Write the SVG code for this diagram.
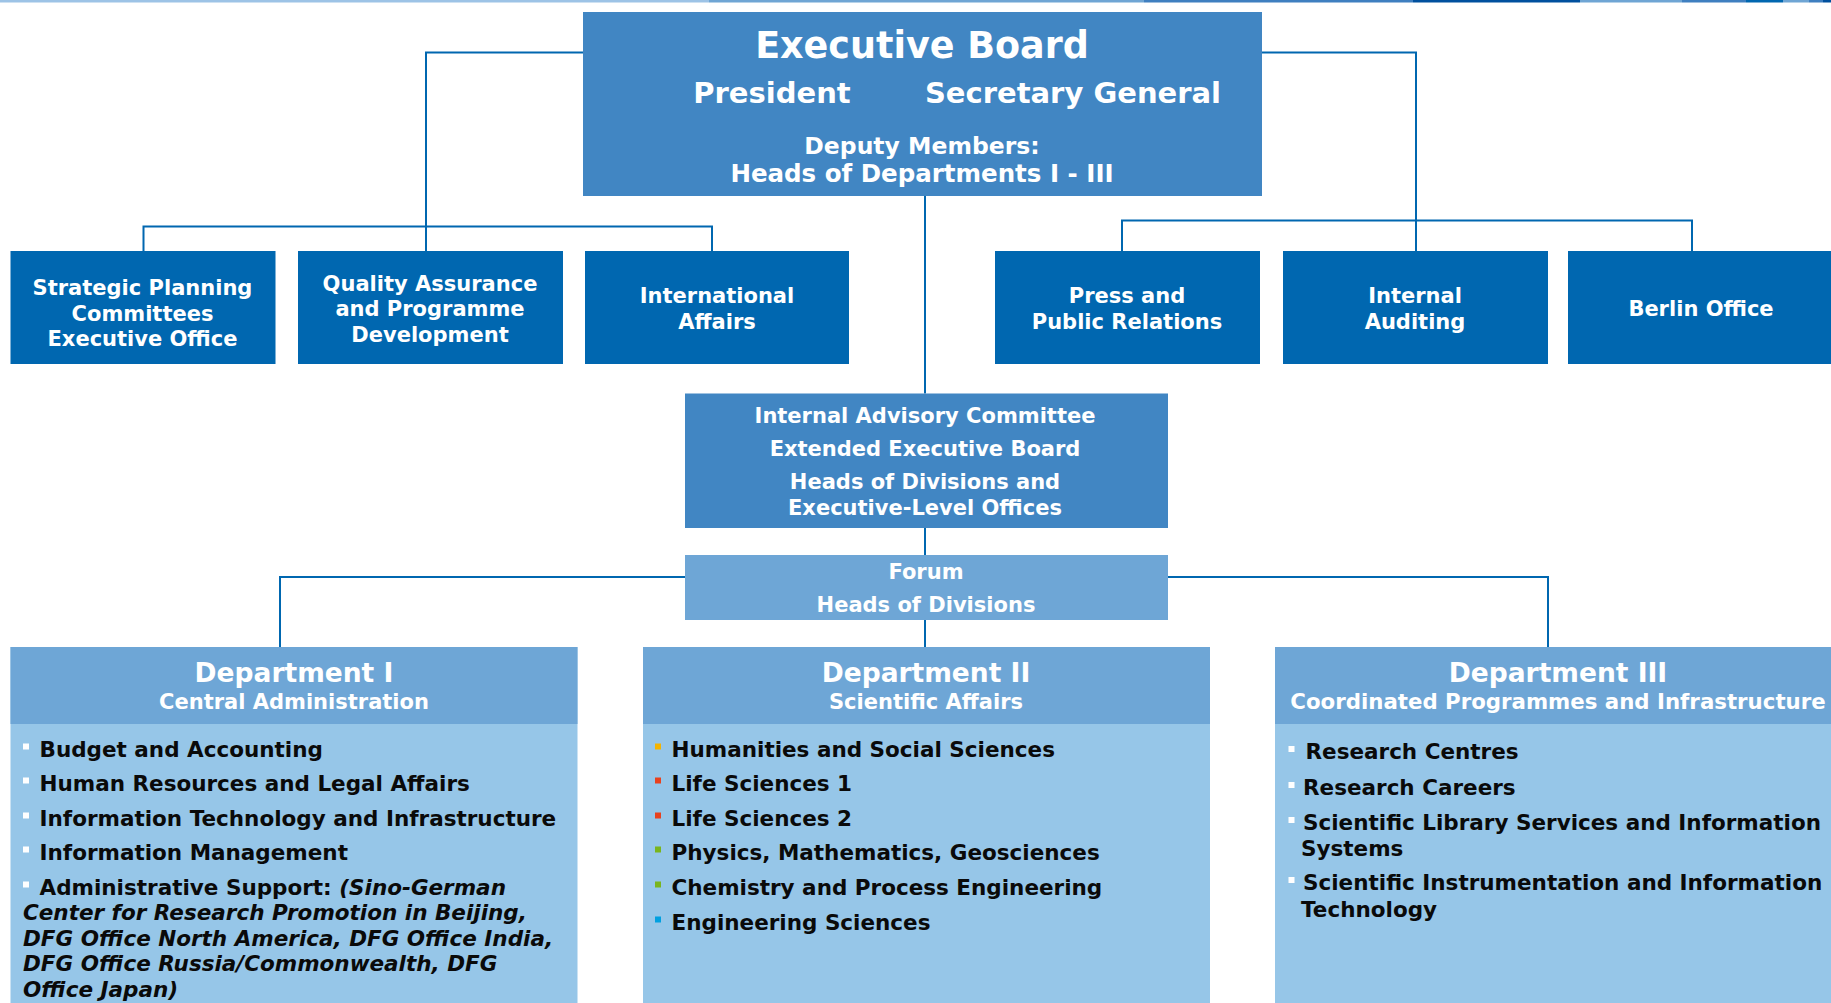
<svg xmlns="http://www.w3.org/2000/svg" width="1831" height="1003" viewBox="0 0 1831 1003">
<style>
text{font-family:"DejaVu Sans","Verdana",sans-serif;font-weight:bold}
.w{fill:#ffffff}
.k{fill:#0a0a0a}
.c{text-anchor:middle}
.exec{fill:#4186c3}
.unit{fill:#0067b0}
.light{fill:#6ea6d6}
.body{fill:#96c6e8}
.conn{stroke:#0067b0;stroke-width:2;fill:none}
.f21{font-size:21px}
.f22{font-size:21.5px}
.it{font-style:italic}
</style>
<rect width="1831" height="1003" fill="#ffffff"/>
<g id="topbar">
<rect x="0" y="0" width="709" height="2.5" fill="#9dc3e6"/>
<rect x="709" y="0" width="435" height="2.5" fill="#6fa5d4"/>
<rect x="1144" y="0" width="269" height="2.5" fill="#3f7fc0"/>
<rect x="1413" y="0" width="167" height="2.5" fill="#00509e"/>
<rect x="1580" y="0" width="102" height="2.5" fill="#6fa5d4"/>
<rect x="1682" y="0" width="64" height="2.5" fill="#3f7fc0"/>
<rect x="1746" y="0" width="37" height="2.5" fill="#0067b0"/>
<rect x="1783" y="0" width="26" height="2.5" fill="#6fa5d4"/>
<rect x="1809" y="0" width="14" height="2.5" fill="#3f7fc0"/>
<rect x="1823" y="0" width="8" height="2.5" fill="#00509e"/>
</g>
<g id="connectors">
<path class="conn" d="M583 52.5H426V251"/>
<path class="conn" d="M1262 52.5H1416V251"/>
<path class="conn" d="M143.5 251V226.5H712V251"/>
<path class="conn" d="M1122 251V220.5H1692V251"/>
<path class="conn" d="M925 196V393.5M925 528V555M925 620V647"/>
<path class="conn" d="M685 577H280V647"/>
<path class="conn" d="M1168 577H1548V647"/>
</g>
<g id="executive-board">
<rect class="exec" x="583" y="12" width="679" height="184"/>
<text class="w c" x="922" y="58" font-size="36.5">Executive Board</text>
<text class="w c" x="772" y="103" font-size="29">President</text>
<text class="w c" x="1073" y="103" font-size="29">Secretary General</text>
<text class="w c" x="922" y="154" font-size="23.5">Deputy Members:</text>
<text class="w c" x="922" y="182" font-size="24.5">Heads of Departments I - III</text>
</g>
<g id="strategic-planning">
<rect class="unit" x="10.5" y="251" width="265" height="113"/>
<text class="w c f21" x="142.5" y="295">Strategic Planning</text>
<text class="w c f21" x="142.5" y="320.5">Committees</text>
<text class="w c f21" x="142.5" y="346">Executive Office</text>
</g>
<g id="quality-assurance">
<rect class="unit" x="298" y="251" width="265" height="113"/>
<text class="w c f21" x="430" y="290.5">Quality Assurance</text>
<text class="w c f21" x="430" y="316">and Programme</text>
<text class="w c f21" x="430" y="341.5">Development</text>
</g>
<g id="international-affairs">
<rect class="unit" x="585" y="251" width="264" height="113"/>
<text class="w c f21" x="717" y="303">International</text>
<text class="w c f21" x="717" y="328.5">Affairs</text>
</g>
<g id="press">
<rect class="unit" x="995" y="251" width="265" height="113"/>
<text class="w c f21" x="1127" y="303">Press and</text>
<text class="w c f21" x="1127" y="328.5">Public Relations</text>
</g>
<g id="internal-auditing">
<rect class="unit" x="1283" y="251" width="265" height="113"/>
<text class="w c f21" x="1415" y="303">Internal</text>
<text class="w c f21" x="1415" y="328.5">Auditing</text>
</g>
<g id="berlin-office">
<rect class="unit" x="1568" y="251" width="263" height="113"/>
<text class="w c f21" x="1701" y="316">Berlin Office</text>
</g>
<g id="internal-advisory">
<rect class="exec" x="685" y="393.5" width="483" height="134.5"/>
<text class="w c f21" x="925" y="422.5">Internal Advisory Committee</text>
<text class="w c f21" x="925" y="456">Extended Executive Board</text>
<text class="w c f21" x="925" y="489">Heads of Divisions and</text>
<text class="w c f21" x="925" y="514.5">Executive-Level Offices</text>
</g>
<g id="forum">
<rect class="light" x="685" y="555" width="483" height="65"/>
<text class="w c f21" x="926" y="579">Forum</text>
<text class="w c f21" x="926" y="612">Heads of Divisions</text>
</g>
<g id="department-1">
<rect class="body" x="10.5" y="647" width="567" height="356"/>
<rect class="light" x="10.5" y="647" width="567" height="77"/>
<text class="w c" x="294" y="682" font-size="26.5">Department I</text>
<text class="w c f21" x="294" y="709">Central Administration</text>
<g fill="#ffffff">
<rect x="23" y="743.5" width="6" height="6"/>
<rect x="23" y="777.5" width="6" height="6"/>
<rect x="23" y="812.5" width="6" height="6"/>
<rect x="23" y="846.5" width="6" height="6"/>
<rect x="23" y="881.5" width="6" height="6"/>
</g>
<text class="k f22" x="39.5" y="756.5">Budget and Accounting</text>
<text class="k f22" x="39.5" y="790.5">Human Resources and Legal Affairs</text>
<text class="k f22" x="39.5" y="825.5">Information Technology and Infrastructure</text>
<text class="k f22" x="39.5" y="859.5">Information Management</text>
<text class="k f22" x="39.5" y="894.5">Administrative Support: <tspan class="it">(Sino-German</tspan></text>
<text class="k f22 it" x="23" y="920">Center for Research Promotion in Beijing,</text>
<text class="k f22 it" x="23" y="945.5">DFG Office North America, DFG Office India,</text>
<text class="k f22 it" x="23" y="971">DFG Office Russia/Commonwealth, DFG</text>
<text class="k f22 it" x="23" y="996.5">Office Japan)</text>
</g>
<g id="department-2">
<rect class="body" x="643" y="647" width="567" height="356"/>
<rect class="light" x="643" y="647" width="567" height="77"/>
<text class="w c" x="926" y="682" font-size="26.5">Department II</text>
<text class="w c f21" x="926" y="709">Scientific Affairs</text>
<rect x="655" y="743.5" width="6" height="6" fill="#f5b400"/>
<rect x="655" y="777.5" width="6" height="6" fill="#e8411e"/>
<rect x="655" y="812.5" width="6" height="6" fill="#e8411e"/>
<rect x="655" y="846.5" width="6" height="6" fill="#7ab51d"/>
<rect x="655" y="881.5" width="6" height="6" fill="#7ab51d"/>
<rect x="655" y="916.5" width="6" height="6" fill="#00a0e0"/>
<text class="k f22" x="671.5" y="756.5">Humanities and Social Sciences</text>
<text class="k f22" x="671.5" y="790.5">Life Sciences 1</text>
<text class="k f22" x="671.5" y="825.5">Life Sciences 2</text>
<text class="k f22" x="671.5" y="859.5">Physics, Mathematics, Geosciences</text>
<text class="k f22" x="671.5" y="894.5">Chemistry and Process Engineering</text>
<text class="k f22" x="671.5" y="929.5">Engineering Sciences</text>
</g>
<g id="department-3">
<rect class="body" x="1275" y="647" width="556" height="356"/>
<rect class="light" x="1275" y="647" width="556" height="77"/>
<text class="w c" x="1558" y="682" font-size="26.5">Department III</text>
<text class="w c" x="1558" y="709" font-size="21.3">Coordinated Programmes and Infrastructure</text>
<g fill="#ffffff">
<rect x="1288.5" y="746" width="6" height="6"/>
<rect x="1288.5" y="782" width="6" height="6"/>
<rect x="1288.5" y="817" width="6" height="6"/>
<rect x="1288.5" y="877" width="6" height="6"/>
</g>
<text class="k f22" x="1305.5" y="759">Research Centres</text>
<text class="k f22" x="1303" y="795">Research Careers</text>
<text class="k f22" x="1303" y="830">Scientific Library Services and Information</text>
<text class="k f22" x="1301" y="856">Systems</text>
<text class="k f22" x="1303" y="890">Scientific Instrumentation and Information</text>
<text class="k f22" x="1301" y="916.5">Technology</text>
</g>
</svg>
